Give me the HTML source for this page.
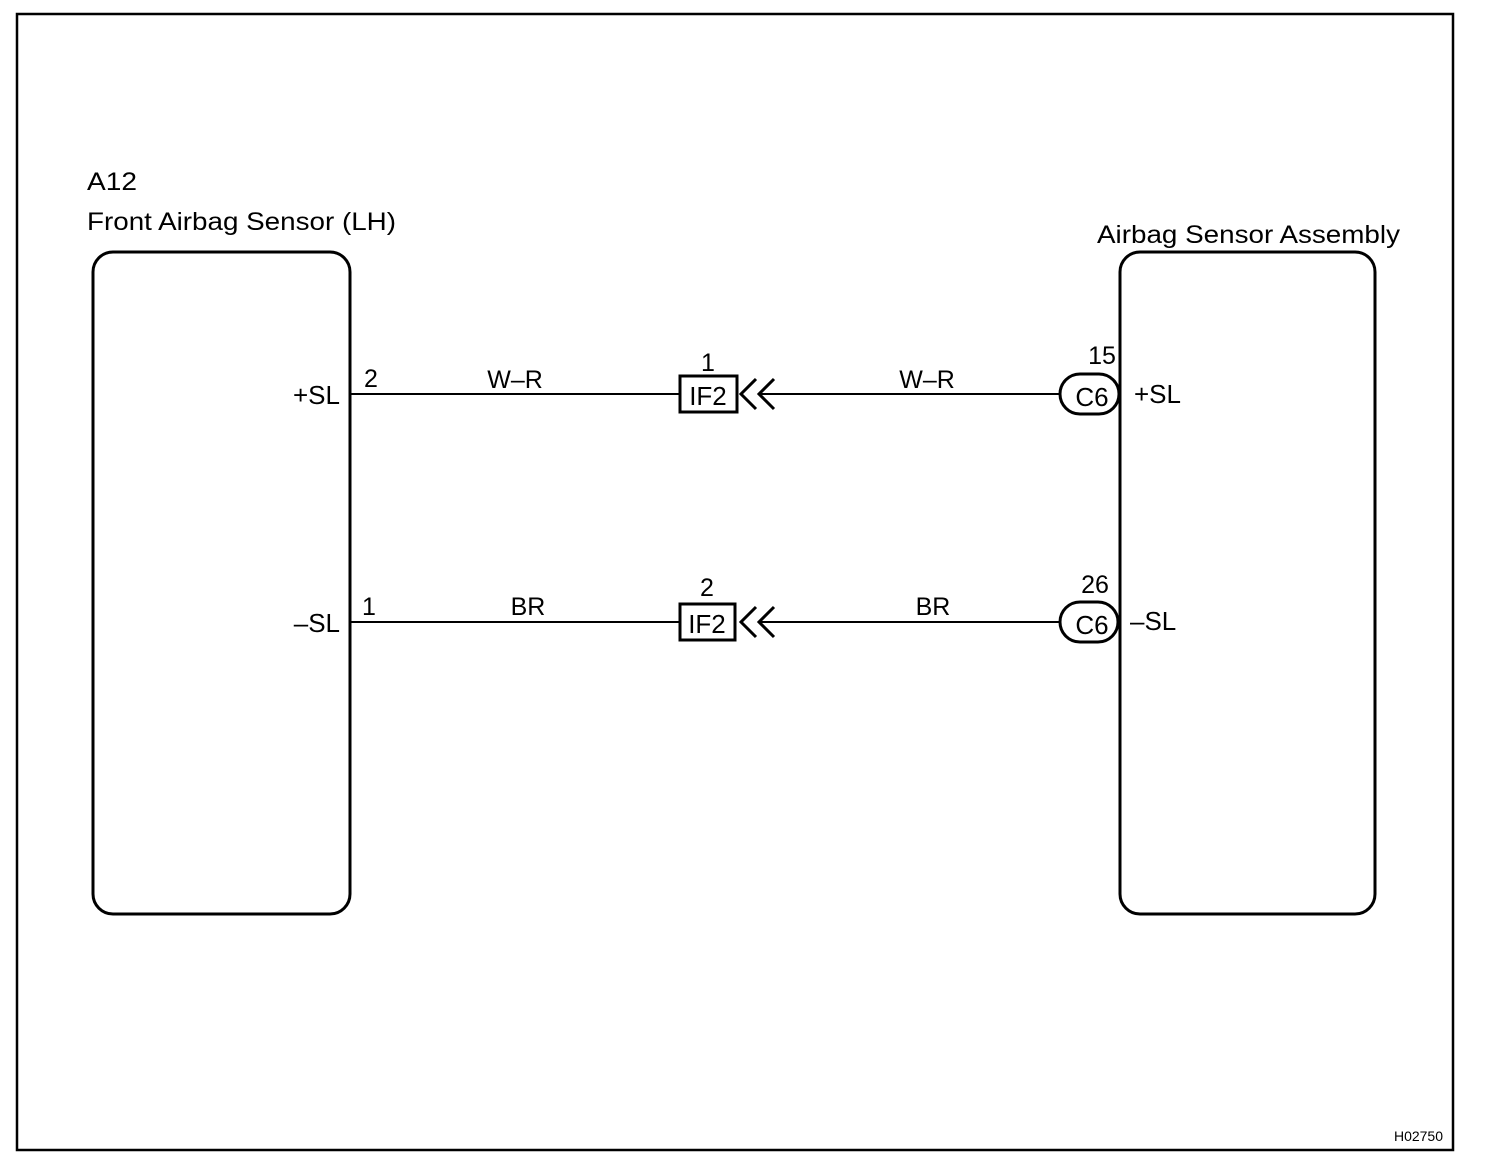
<!DOCTYPE html>
<html><head><style>
body{margin:0;background:#fff;}
svg{display:block;font-family:"Liberation Sans",Arial,sans-serif;}
text{fill:#000;}
</style></head><body>
<svg width="1504" height="1166" viewBox="0 0 1504 1166" xmlns="http://www.w3.org/2000/svg">
<rect x="17" y="14" width="1436" height="1136" fill="none" stroke="#000" stroke-width="2.5"/>
<rect x="93" y="252" width="257" height="662" rx="20" fill="none" stroke="#000" stroke-width="3"/>
<rect x="1120" y="252" width="255" height="662" rx="20" fill="none" stroke="#000" stroke-width="3"/>
<text x="87" y="190" font-size="25" textLength="50" lengthAdjust="spacingAndGlyphs">A12</text>
<text x="87" y="230" font-size="25" textLength="309" lengthAdjust="spacingAndGlyphs">Front Airbag Sensor (LH)</text>
<text x="1097" y="243" font-size="25" textLength="303" lengthAdjust="spacingAndGlyphs">Airbag Sensor Assembly</text>
<!-- top wire -->
<line x1="350" y1="394" x2="680" y2="394" stroke="#000" stroke-width="2"/>
<line x1="760" y1="394" x2="1060" y2="394" stroke="#000" stroke-width="2"/>
<rect x="680" y="376" width="57" height="36" fill="#fff" stroke="#000" stroke-width="3"/>
<text x="708" y="405" font-size="26" text-anchor="middle">IF2</text>
<polyline points="756,379 741,394 756,409" fill="none" stroke="#000" stroke-width="3"/>
<polyline points="774,379 759,394 774,409" fill="none" stroke="#000" stroke-width="3"/>
<rect x="1060" y="374" width="59" height="40" rx="20" fill="#fff" stroke="#000" stroke-width="3"/>
<text x="1092" y="406" font-size="26" text-anchor="middle">C6</text>
<text x="708" y="371" font-size="25" text-anchor="middle">1</text>
<text x="1102" y="364" font-size="25" text-anchor="middle">15</text>
<text x="515" y="388" font-size="25" text-anchor="middle">W–R</text>
<text x="927" y="388" font-size="25" text-anchor="middle">W–R</text>
<text x="371" y="387" font-size="25" text-anchor="middle">2</text>
<text x="340" y="404" font-size="26" text-anchor="end">+SL</text>
<text x="1134" y="403" font-size="26">+SL</text>
<!-- bottom wire -->
<line x1="350" y1="622" x2="680" y2="622" stroke="#000" stroke-width="2"/>
<line x1="760" y1="622" x2="1060" y2="622" stroke="#000" stroke-width="2"/>
<rect x="680" y="604" width="55" height="36" fill="#fff" stroke="#000" stroke-width="3"/>
<text x="707" y="633" font-size="26" text-anchor="middle">IF2</text>
<polyline points="756,607 741,622 756,637" fill="none" stroke="#000" stroke-width="3"/>
<polyline points="774,607 759,622 774,637" fill="none" stroke="#000" stroke-width="3"/>
<rect x="1060" y="602" width="58" height="40" rx="20" fill="#fff" stroke="#000" stroke-width="3"/>
<text x="1092" y="634" font-size="26" text-anchor="middle">C6</text>
<text x="707" y="596" font-size="25" text-anchor="middle">2</text>
<text x="1095" y="593" font-size="25" text-anchor="middle">26</text>
<text x="528" y="615" font-size="25" text-anchor="middle">BR</text>
<text x="933" y="615" font-size="25" text-anchor="middle">BR</text>
<text x="369" y="615" font-size="25" text-anchor="middle">1</text>
<text x="340" y="632" font-size="26" text-anchor="end">–SL</text>
<text x="1130" y="630" font-size="26">–SL</text>
<text x="1443" y="1141" font-size="14" text-anchor="end">H02750</text>
</svg>
</body></html>
